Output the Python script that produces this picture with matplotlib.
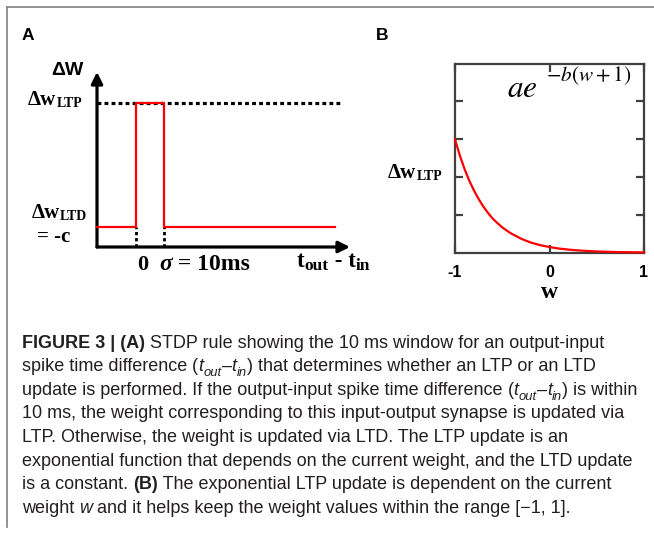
import matplotlib
matplotlib.use('Agg')
import matplotlib.pyplot as plt
from matplotlib.transforms import IdentityTransform
from matplotlib.font_manager import FontProperties
from matplotlib.lines import Line2D

W, H = 654, 540
DPI = 100

# ---------------- Panel A data (schematic STDP rule) ----------------
window_t = [0, 10]            # ms : LTP window edges (0 and sigma)
t_span = [-13.9, 71.0]        # ms : drawn extent of the rule
dw_ltp = 1.0                  # LTP level
dw_ltd = 0.14                 # LTD level (= -c, drawn just above axis)
t_axis = [-13.9, 76.4]        # ms : x-axis extent (arrow tip at end)
dw_axis_top = 1.215           # y-axis arrow tip
ltp_dotted_end = 72.9         # ms : end of dotted LTP reference line

# ---------------- Panel B data (exponential LTP update) ----------------
w_vals = [-1.0, -0.95, -0.9, -0.85, -0.8, -0.75, -0.7, -0.65, -0.6, -0.55,
          -0.5, -0.45, -0.4, -0.3, -0.2, -0.1, 0.0, 0.1, 0.2, 0.3, 0.4,
          0.5, 0.6, 0.7, 0.8, 0.9, 1.0]
dw_vals = [3.00, 2.58, 2.22, 1.91, 1.65, 1.42, 1.22, 1.05, 0.90, 0.78,
           0.67, 0.58, 0.50, 0.37, 0.27, 0.20, 0.15, 0.11, 0.082, 0.061, 0.045,
           0.033, 0.025, 0.018, 0.014, 0.010, 0.007]
b_xticks = [-1, 0, 1]
b_xticklabels = ['-1', '0', '1']
b_yticks = [1, 2, 3, 4]

fig = plt.figure(figsize=(W / DPI, H / DPI), dpi=DPI)
renderer = fig.canvas.get_renderer()
ID = IdentityTransform()


def fp(family, size, weight='normal', style='normal'):
    return FontProperties(family=family, size=size, weight=weight, style=style)


def measure(s, prop):
    w1, _, _ = renderer.get_text_width_height_descent('|' + s + '|', prop, ismath=False)
    w0, _, _ = renderer.get_text_width_height_descent('||', prop, ismath=False)
    return w1 - w0


def rich(x, y, segs, ha='left', color='black', draw=True):
    """segs: (text, FontProperties, dy_px). x, y in pixels from top-left, y = baseline."""
    widths = [measure(s, p) for s, p, _ in segs]
    total = sum(widths)
    if not draw:
        return total
    if ha == 'center':
        x -= total / 2
    elif ha == 'right':
        x -= total
    for (s, p, dy), w in zip(segs, widths):
        fig.text(x, H - (y + dy), s, fontproperties=p, transform=ID,
                 ha='left', va='baseline', color=color)
        x += w
    return total


SERIF = ['Liberation Serif', 'DejaVu Serif']
SANS = ['Liberation Sans', 'DejaVu Sans']

# ---------------- frame ----------------
fig.add_artist(Line2D([7, W], [H - 7, H - 7], transform=ID, color='#8a8a8a', lw=1.3))
fig.add_artist(Line2D([7, 7], [H - 7, H - 527], transform=ID, color='#8a8a8a', lw=1.3))

# panel letters
fig.text(22, H - 40, 'A', transform=ID, fontproperties=fp(SANS, 12.5, 'bold'), va='baseline')
fig.text(376, H - 40, 'B', transform=ID, fontproperties=fp(SANS, 12.5, 'bold'), va='baseline')

# ---------------- Panel A ----------------
axA = fig.add_axes([97 / W, 1 - 247 / H, 253 / W, 175 / H])
axA.set_xlim(t_axis[0], t_axis[1])
axA.set_ylim(0, dw_axis_top)
axA.axis('off')

arrow_kw = dict(arrowstyle='-|>', lw=2.3, color='black', mutation_scale=17,
                shrinkA=0, shrinkB=0)
axA.annotate('', xy=(t_axis[1], 0), xytext=(t_axis[0], 0), arrowprops=arrow_kw,
             annotation_clip=False)
axA.annotate('', xy=(t_axis[0], dw_axis_top), xytext=(t_axis[0], 0), arrowprops=arrow_kw,
             annotation_clip=False)

axA.plot([t_axis[0], ltp_dotted_end], [dw_ltp, dw_ltp], color='black', lw=2.3,
         ls=(0, (1.2, 1.0)), dash_capstyle='butt', clip_on=False, zorder=2)
for tw in window_t:
    axA.plot([tw, tw], [0, dw_ltd], color='black', lw=2.0, ls=(0, (1.2, 1.0)),
             dash_capstyle='butt', clip_on=False, zorder=2)

step_t = [t_span[0], window_t[0], window_t[0], window_t[1], window_t[1], t_span[1]]
step_y = [dw_ltd, dw_ltd, dw_ltp, dw_ltp, dw_ltd, dw_ltd]
axA.plot(step_t, step_y, color='#ff0000', lw=1.6, clip_on=False, zorder=3)

big = fp(SERIF, 15, 'bold')
sub = fp(SERIF, 10, 'bold')
axis_big = fp(SERIF, 16.5, 'bold')
axis_sub = fp(SERIF, 12.5, 'bold')
rich(83, 75, [('\u0394W', fp(SANS, 14, 'bold'), 0)], ha='right')
rich(82, 105, [('\u0394w', big, 0), ('LTP', sub, 2)], ha='right')
rich(87, 218, [('\u0394w', big, 0), ('LTD', sub, 2)], ha='right')
rich(54, 242, [('= -c', big, 0)], ha='center')
rich(137, 270, [('0', fp(SERIF, 16, 'bold'), 0)])
rich(159, 270, [('\u03c3', fp(SERIF, 17, 'bold', 'italic'), 0), (' = 10ms', fp(SERIF, 17, 'bold'), 0)])
rich(297, 267, [('t', axis_big, 0), ('out', axis_sub, 3), (' - t', axis_big, 0), ('in', axis_sub, 3)])

# ---------------- Panel B ----------------
axB = fig.add_axes([455 / W, 1 - 252.7 / H, 189 / W, 189 / H])
axB.plot(w_vals, dw_vals, color='#ff0000', lw=1.6, clip_on=False, zorder=3)
axB.set_xlim(-1, 1)
axB.set_ylim(0, 5)
axB.set_xticks(b_xticks)
axB.set_xticklabels(b_xticklabels)
axB.set_yticks(b_yticks)
axB.set_yticklabels([])
for sp in axB.spines.values():
    sp.set_color('#404040')
    sp.set_linewidth(1.6)
axB.tick_params(axis='both', direction='in', length=6, width=1.6, color='#404040')
axB.tick_params(axis='x', top=True, pad=9)
axB.tick_params(axis='y', right=True)
for lab in axB.get_xticklabels():
    lab.set_fontproperties(fp(SANS, 11.5, 'bold'))

rich(549, 298, [('w', fp(SERIF, 17, 'bold'), 0)], ha='center')
rich(442, 178, [('\u0394w', big, 0), ('LTP', sub, 2)], ha='right')
fig.text(507, H - 97, r'$ae$', transform=ID, ha='left', va='baseline',
         fontsize=22.5, math_fontfamily='stix')
fig.text(546, H - 81, r'$-b(w+1)$', transform=ID, ha='left', va='baseline',
         fontsize=15.2, math_fontfamily='stix')

# ---------------- Caption ----------------
def cap_segs(S):
    reg = fp(SANS, S)
    bold = fp(SANS, S, 'bold')
    it = fp(SANS, S, 'normal', 'italic')
    its = fp(SANS, S * 0.72, 'normal', 'italic')
    d = 0.28 * S * DPI / 72
    tdiff = [('(', reg, 0), ('t', it, 0), ('out', its, d), ('\u2013', reg, 0),
             ('t', it, 0), ('in', its, d), (')', reg, 0)]
    lines = [
        [('FIGURE 3 | (A)', bold, 0), (' STDP rule showing the 10 ms window for an output-input', reg, 0)],
        [('spike time difference ', reg, 0)] + tdiff + [(' that determines whether an LTP or an LTD', reg, 0)],
        [('update is performed. If the output-input spike time difference ', reg, 0)] + tdiff + [(' is within', reg, 0)],
        [('10 ms, the weight corresponding to this input-output synapse is updated via', reg, 0)],
        [('LTP. Otherwise, the weight is updated via LTD. The LTP update is an', reg, 0)],
        [('exponential function that depends on the current weight, and the LTD update', reg, 0)],
        [('is a constant. ', reg, 0), ('(B)', bold, 0), (' The exponential LTP update is dependent on the current', reg, 0)],
        [('weight ', reg, 0), ('w', it, 0), (' and it helps keep the weight values within the range [\u22121, 1].', reg, 0)],
    ]
    return lines

S0 = 10.0
w_ref = rich(0, 0, cap_segs(S0)[2], draw=False)
S = S0 * 618.0 / w_ref
for i, segs in enumerate(cap_segs(S)):
    rich(22, 347.5 + 23.6 * i, segs, color='#231f20')

fig.savefig('out.png', dpi=DPI)
